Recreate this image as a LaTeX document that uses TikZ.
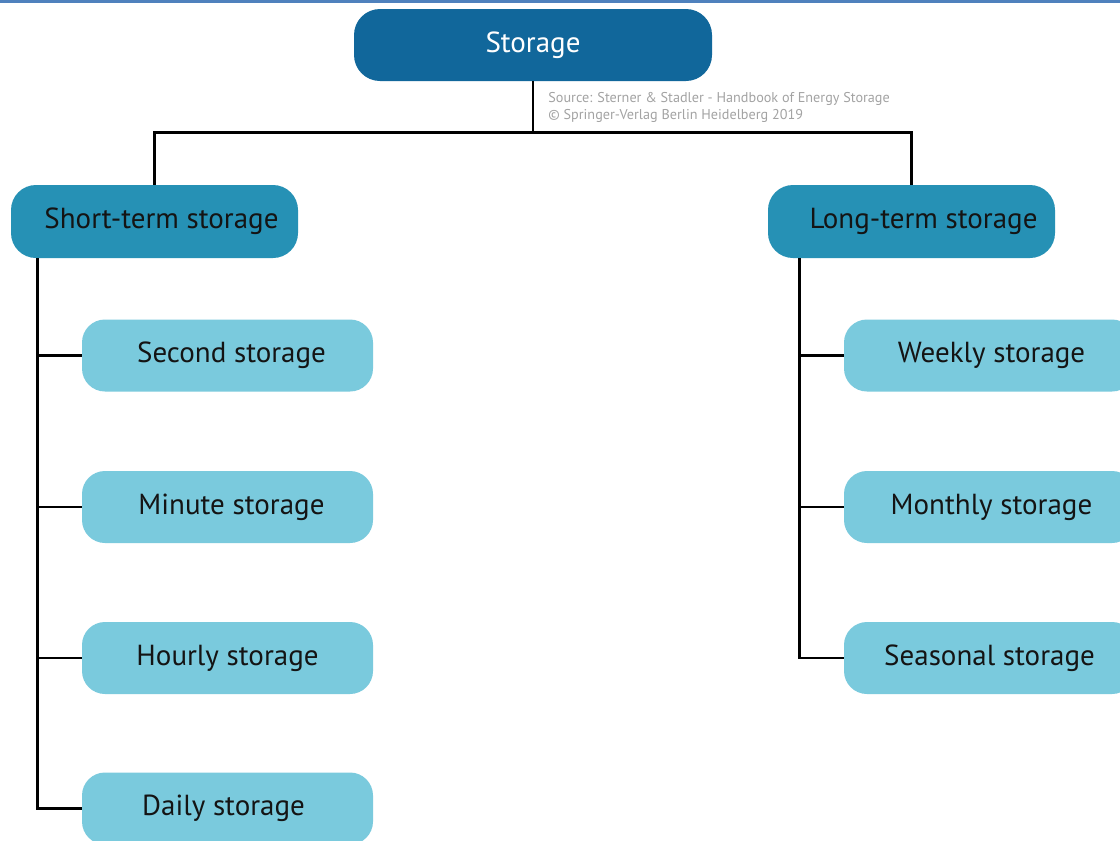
\documentclass[tikz,border=0pt]{standalone}
\usepackage{fontspec}
\setmainfont{PT Sans}
\definecolor{rootblue}{HTML}{11679B}
\definecolor{midblue}{HTML}{2691B5}
\definecolor{leafblue}{HTML}{7ACADD}
\definecolor{rulebl}{HTML}{4F81BD}
\definecolor{srcgray}{HTML}{A3A3A3}
\definecolor{ink}{HTML}{141414}
\tikzset{
  rootbox/.style={fill=rootblue, text=white, rounded corners=13pt, minimum width=179pt, minimum height=36pt, inner sep=0pt, font=\fontsize{14.5}{17}\selectfont},
  midbox/.style={fill=midblue, text=ink, rounded corners=12.5pt, minimum width=143.5pt, minimum height=36.5pt, inner sep=0pt, font=\fontsize{14.5}{17}\selectfont},
  leafbox/.style={fill=leafblue, text=ink, rounded corners=11.5pt, minimum width=145.5pt, minimum height=36pt, inner sep=0pt, font=\fontsize{14.5}{17}\selectfont},
  link/.style={draw=black, line width=1.2pt},
}
\begin{document}
\begin{tikzpicture}[x=0.5pt,y=-0.5pt]
\useasboundingbox (0,0) rectangle (1120,841);
\clip (0,0) rectangle (1120,841);
\fill[white] (0,0) rectangle (1120,841);
\fill[rulebl] (0,0) rectangle (1120,2.5);

% root and the two main branches
\node[rootbox] (storage) at (533,45) {Storage};
\node[midbox] (short) at (154.5,221.5) {\hspace*{7pt}Short-term storage};
\node[midbox] (long) at (911.5,221.5) {\hspace*{12pt}Long-term storage};

% short-term leaves
\node[leafbox] (second) at (227.5,355.5) {\hspace*{4pt}Second storage};
\node[leafbox] (minute) at (227.5,507) {\hspace*{4pt}Minute storage};
\node[leafbox] (hourly) at (227.5,658) {Hourly storage};
\node[leafbox] (daily) at (227.5,808.5) {\hspace*{-4pt}Daily storage};

% long-term leaves
\node[leafbox] (weekly) at (989.5,355.5) {\hspace*{2pt}Weekly storage};
\node[leafbox] (monthly) at (989.5,507) {\hspace*{2pt}Monthly storage};
\node[leafbox] (seasonal) at (989.5,658) {Seasonal storage};

% source note
\node[anchor=north west, inner sep=0pt, align=left, text=srcgray, font=\fontsize{7.1}{8.5}\selectfont] (source) at (548,92) {Source: Sterner \& Stadler - Handbook of Energy Storage\\\textcopyright{} Springer-Verlag Berlin Heidelberg 2019};

% tree connectors
\draw[link] (storage.south) -- ++(0,51) -| (short.north);
\draw[link] (storage.south) -- ++(0,51) -| (long.north);

\coordinate (ltrunk) at ([xshift=13.5pt]short.south west);
\draw[link] (ltrunk) |- (daily.west);
\foreach \leaf in {second, minute, hourly}
  \draw[link] (ltrunk |- \leaf.west) -- (\leaf.west);

\coordinate (rtrunk) at ([xshift=16pt]long.south west);
\draw[link] (rtrunk) |- (seasonal.west);
\foreach \leaf in {weekly, monthly}
  \draw[link] (rtrunk |- \leaf.west) -- (\leaf.west);
\end{tikzpicture}
\end{document}
